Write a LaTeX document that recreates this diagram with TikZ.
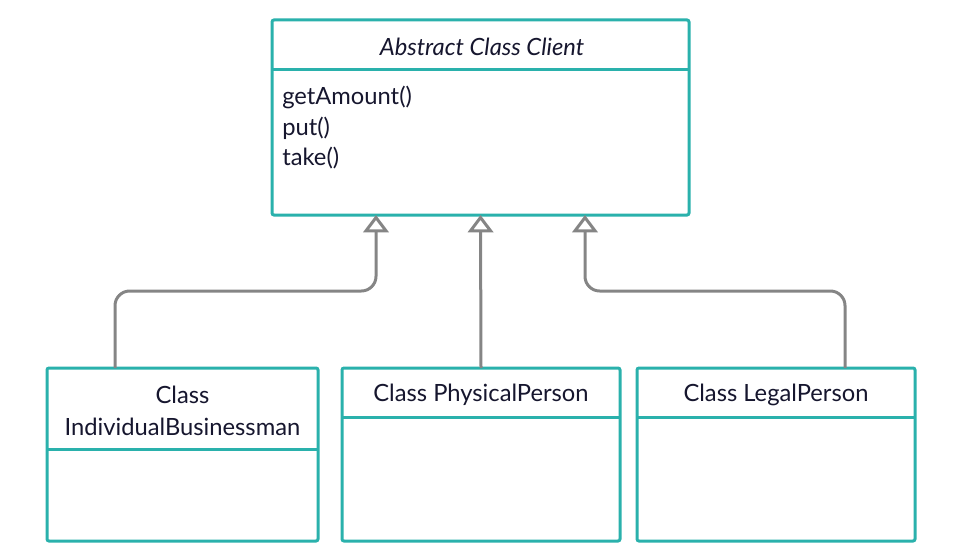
\documentclass[tikz,border=0pt]{standalone}
\usepackage{fontspec}
\setmainfont{Lato}
\usetikzlibrary{arrows.meta}
\definecolor{tealbox}{HTML}{2AB1AC}
\definecolor{ink}{HTML}{16162E}
\definecolor{conn}{HTML}{858585}
\begin{document}
\begin{tikzpicture}[x=0.75pt,y=-0.75pt,
  box/.style={draw=tealbox, line width=2.25pt, rounded corners=1.5pt, inner sep=0pt, outer sep=0pt, anchor=north west, fill=white},
  divider/.style={draw=tealbox, line width=2.25pt},
  lbl/.style={text=ink, font=\fontsize{17.8}{24}\selectfont, inner sep=0pt},
  inh/.style={draw=conn, line width=2.25pt, rounded corners=11pt, -{Triangle[open, width=19pt, length=13pt]}}
]
\useasboundingbox (0,0) rectangle (953,560);
% boxes
\node[box, minimum width=312.75pt, minimum height=146.25pt] (client) at (272,20) {};
\node[box, minimum width=203.25pt, minimum height=129.75pt] (ib) at (47,368) {};
\node[box, minimum width=208.5pt, minimum height=129.75pt] (pp) at (342,368) {};
\node[box, minimum width=208.5pt, minimum height=129.75pt] (lp) at (637,368) {};
% dividers
\draw[divider] (272,70) -- (689,70);
\draw[divider] (47,449) -- (318,449);
\draw[divider] (342,417) -- (620,417);
\draw[divider] (637,417) -- (915,417);
% texts
\node[lbl, font=\fontsize{17.8}{24}\selectfont\itshape] (title) at (482,47) {Abstract Class Client};
\node[lbl, anchor=west] (m1) at (282,97) {getAmount()};
\node[lbl, anchor=west] (m2) at (282,128) {put()};
\node[lbl, anchor=west] (m3) at (282,158) {take()};
\node[lbl, align=center] (ibt) at (182.5,411) {Class\\IndividualBusinessman};
\node[lbl] (ppt) at (481,395) {Class PhysicalPerson};
\node[lbl] (lpt) at (776,395) {Class LegalPerson};
% connectors
\coordinate (ibin) at (115,368);
\coordinate (lpin) at (845,368);
\coordinate (t1) at (376,215);
\coordinate (t3) at (585,215);
\draw[inh] (ibin) -- (115,291) -- (376,291) -- (t1);
\draw[inh] (pp.north) -- (client.south);
\draw[inh] (lpin) -- (845,291) -- (585,291) -- (t3);
\end{tikzpicture}
\end{document}
